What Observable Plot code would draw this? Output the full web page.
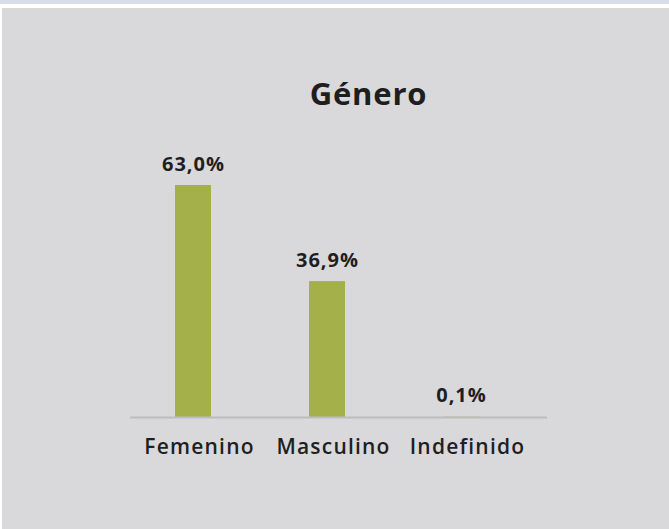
<!DOCTYPE html>
<html>
<head>
<meta charset="utf-8">
<script src="https://cdn.jsdelivr.net/npm/d3@7"></script>
<script src="https://cdn.jsdelivr.net/npm/@observablehq/plot@0.6"></script>
<style>
  html, body { margin: 0; padding: 0; background: #ffffff; }
  body { width: 669px; height: 529px; position: relative; overflow: hidden; font-family: "Open Sans", sans-serif; }
  #strip { position: absolute; left: 0; top: 0; width: 669px; height: 4px; background: #d7dee9; }
  #panel { position: absolute; left: 2px; top: 8px; width: 667px; height: 521px; background: #d9d9db; }
  #title { position: absolute; left: 0; width: 669px; top: 72px; text-align: center; padding-left: 68px; box-sizing: border-box;
           font-family: "Open Sans", sans-serif; font-weight: 700; font-size: 31px; color: #1e1e1e; letter-spacing: 0.8px; }
  #chart { position: absolute; left: 0; top: 0; }
  #chart svg { overflow: visible; }
  #chart g[aria-label="x-axis tick label"] text { letter-spacing: 1.2px; }
  #chart g[aria-label="text"] text { letter-spacing: 1.0px; }
</style>
</head>
<body>
<div id="strip"></div>
<div id="panel"></div>
<div id="title">Género</div>
<div id="chart"></div>
<script>
const categories = ["Femenino", "Masculino", "Indefinido"];
const values = [63.0, 36.9, 0.1];
const labels = ["63,0%", "36,9%", "0,1%"];

const data = categories.map((c, i) => ({cat: c, value: values[i], label: labels[i]}));

const chart = Plot.plot({
  width: 669,
  height: 529,
  marginLeft: 130,
  marginRight: 145,
  marginTop: 185,
  marginBottom: 112,
  style: {background: "transparent", fontFamily: "Open Sans, sans-serif", overflow: "visible"},
  x: {domain: categories, paddingInner: 0.733, paddingOuter: 0.326, label: null},
  y: {domain: [0, 63], axis: null},
  marks: [
    Plot.barY(data, {x: "cat", y: "value", fill: "#a4b14b"}),
    Plot.ruleY([0], {stroke: "#bcbdbf", strokeWidth: 2, insetRight: -23}),
    Plot.text(data, {x: "cat", y: "value", text: "label", dy: -15, lineAnchor: "bottom",
      fontSize: 20, fontWeight: 700, fill: "#1f1f1f"}),
    Plot.axisX({tickSize: 0, tickPadding: 22, fontSize: 21, fontWeight: 600, fill: "#1f1f1f", dx: 6, label: null})
  ]
});
document.getElementById("chart").appendChild(chart);
</script>
</body>
</html>
